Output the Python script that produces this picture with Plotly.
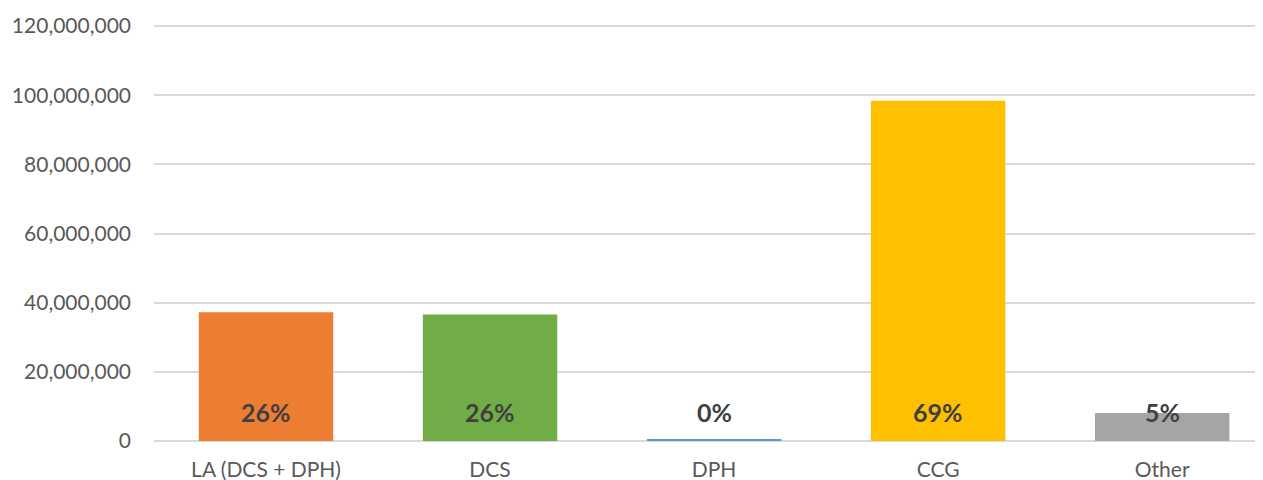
import plotly.graph_objects as go

categories = ["LA (DCS + DPH)", "DCS", "DPH", "CCG", "Other"]
values = [37200000, 36600000, 600000, 98400000, 8100000]
pct_labels = ["26%", "26%", "0%", "69%", "5%"]
colors = ["#ED7D31", "#70AD47", "#5B9BD5", "#FFC000", "#A5A5A5"]
label_y = 8400000

fig = go.Figure()
fig.add_trace(go.Bar(x=categories, y=values, marker=dict(color=colors, line=dict(width=0)),
                     width=0.6, showlegend=False, hoverinfo="x+y"))
for c, p in zip(categories, pct_labels):
    fig.add_annotation(x=c, y=label_y, text=p, showarrow=False,
                       font=dict(family="Lato", size=25, color="#404040", weight="bold"),
                       yanchor="middle")

# page body has an 8px default margin, so the figure is sized to fit the remaining window
fig.update_layout(
    width=1255, height=472,
    margin=dict(l=146, r=0, t=17, b=39, autoexpand=False),
    paper_bgcolor="white", plot_bgcolor="white",
    font=dict(family="Lato", color="#595959"),
    bargap=0.4,
    xaxis=dict(range=[-0.5, 4.45], showgrid=False, showline=False, ticks="",
               automargin=False, ticklabelstandoff=14,
               tickfont=dict(size=21, color="#595959")),
    yaxis=dict(range=[0, 120300000], tickvals=[0, 20000000, 40000000, 60000000, 80000000, 100000000, 120000000],
               tickformat=",d", automargin=False,
               showgrid=True, gridcolor="#D9D9D9", gridwidth=1.5,
               zeroline=True, zerolinecolor="#D9D9D9", zerolinewidth=1.5,
               tickfont=dict(size=21, color="#595959"), ticklabelstandoff=22),
)
fig.write_html("out.html")
